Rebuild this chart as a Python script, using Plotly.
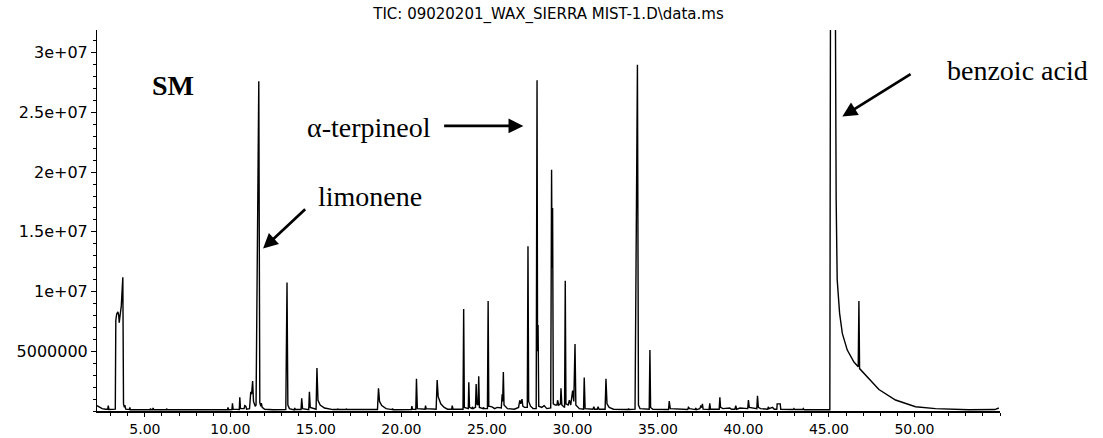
import plotly.graph_objects as go

# Retention time (min) and abundance vertices
rt_min = [
    2.20, 2.35, 2.50, 2.70, 2.83, 2.86, 2.90,
    3.27, 3.30, 3.35, 3.42, 3.47, 3.50, 3.55, 3.62, 3.71, 3.75, 3.80, 3.83, 3.88,
    4.10, 4.12, 4.15, 5.30, 5.33, 5.36, 5.45, 5.48, 5.52, 6.25, 6.27, 6.30,
    9.83, 9.86, 9.90, 10.09, 10.12, 10.16, 10.52, 10.55, 10.59,
    10.80, 10.84, 10.90, 10.95, 11.12, 11.19, 11.24, 11.30, 11.35, 11.45,
    11.50, 11.66, 11.72, 11.78, 11.81, 11.86, 12.00, 12.50,
    13.24, 13.31, 13.36, 13.45, 13.73, 13.76, 13.80,
    14.13, 14.17, 14.22, 14.58, 14.62, 14.67,
    15.01, 15.06, 15.12, 15.25, 15.50, 16.00, 16.25, 16.27, 16.30, 16.76, 16.78, 16.81,
    18.60, 18.66, 18.72, 18.85, 19.10, 19.45, 19.48, 19.52,
    20.58, 20.61, 20.65, 20.84, 20.88, 20.93, 21.38, 21.41, 21.45,
    22.03, 22.09, 22.15, 22.30, 22.50, 22.70, 22.94, 22.97, 23.02,
    23.60, 23.64, 23.68, 23.91, 23.94, 23.98, 24.12, 24.15, 24.20,
    24.33, 24.37, 24.41, 24.48, 24.52, 24.56, 24.78, 24.80, 24.84,
    25.03, 25.07, 25.11, 25.30, 25.45, 25.60, 25.84, 25.89, 25.92, 25.96, 26.00, 26.20,
    26.60, 26.85, 26.92, 26.98, 27.05, 27.10, 27.20,
    27.36, 27.40, 27.44, 27.55, 27.70, 27.88, 27.93, 27.96, 27.99, 28.03, 28.20, 28.35, 28.50,
    28.73, 28.78, 28.81, 28.84, 28.88, 29.00, 29.10, 29.13, 29.20, 29.30, 29.33, 29.38,
    29.54, 29.58, 29.62, 29.75, 29.82, 29.90, 30.01, 30.08, 30.15, 30.20, 30.40,
    30.65, 30.69, 30.74, 31.20, 31.25, 31.30, 31.45, 31.50, 31.55,
    31.91, 31.96, 32.02, 32.15, 32.40, 33.25, 33.28, 33.31,
    33.66, 33.80, 33.86, 33.95, 34.49, 34.53, 34.57, 34.70,
    35.62, 35.66, 35.72, 36.74, 36.78, 36.85, 37.18, 37.21, 37.25,
    37.45, 37.50, 37.56, 37.60, 37.64, 37.99, 38.03, 38.07,
    38.30, 38.58, 38.62, 38.66, 38.80, 39.20, 39.30, 39.50, 39.55, 39.60, 39.80, 40.00,
    40.25, 40.29, 40.34, 40.78, 40.82, 40.87, 41.00,
    41.42, 41.45, 41.50, 41.70, 41.80, 41.95, 41.97, 42.15, 42.18,
    42.92, 42.95, 43.00, 43.47, 43.50, 43.55,
    45.05, 45.10, 45.38, 45.42, 45.48, 45.62, 45.78, 46.07, 46.46, 46.71, 46.75, 46.79,
    47.14, 47.92, 48.89, 50.06, 51.23, 53.18, 54.70, 54.93,
]
tic_abundance = [
    4.5e5, 3.0e5, 2.0e5, 1.5e5, 1.5e5, 4.5e5, 1.2e5,
    1.5e5, 7.6e6, 8.1e6, 8.3e6, 8.0e6, 7.4e6, 8.0e6, 8.8e6, 1.12e7, 6.0e5, 3.0e5, 5.0e5, 1.5e5,
    1.2e5, 3.0e5, 1.0e5, 1.0e5, 2.0e5, 1.0e5, 1.0e5, 2.5e5, 1.0e5, 1.0e5, 2.0e5, 1.0e5,
    1.0e5, 3.0e5, 1.0e5, 1.2e5, 6.5e5, 1.5e5, 1.2e5, 1.15e6, 2.0e5,
    2.0e5, 4.5e5, 4.0e5, 1.5e5, 2.0e5, 1.6e6, 1.4e6, 2.5e6, 8.0e5, 4.0e5,
    5.0e5, 2.76e7, 7.0e5, 4.0e5, 6.5e5, 3.0e5, 1.5e5, 1.0e5,
    1.2e5, 1.075e7, 5.0e5, 2.0e5, 1.0e5, 2.5e5, 1.2e5,
    1.2e5, 1.06e6, 2.0e5, 1.2e5, 1.6e6, 3.0e5,
    1.5e5, 3.6e6, 9.0e5, 5.0e5, 2.5e5, 1.2e5, 1.2e5, 2.0e5, 1.2e5, 1.2e5, 2.0e5, 1.2e5,
    1.2e5, 1.9e6, 8.0e5, 4.5e5, 2.0e5, 1.2e5, 2.0e5, 1.0e5,
    1.2e5, 4.0e5, 1.5e5, 1.2e5, 2.7e6, 2.0e5, 1.5e5, 4.5e5, 2.0e5,
    1.5e5, 2.6e6, 1.2e6, 6.0e5, 3.0e5, 1.5e5, 1.5e5, 4.5e5, 1.5e5,
    1.5e5, 8.55e6, 3.0e5, 2.0e5, 2.4e6, 3.0e5, 2.0e5, 3.5e5, 2.0e5,
    3.0e5, 2.25e6, 6.0e5, 5.0e5, 2.9e6, 3.0e5, 2.0e5, 3.0e5, 2.0e5,
    2.0e5, 9.2e6, 4.0e5, 3.5e5, 2.0e5, 3.0e5, 2.5e5, 1.4e6, 8.0e5, 3.26e6, 5.0e5, 2.0e5,
    1.5e5, 3.0e5, 9.0e5, 6.0e5, 1.0e6, 4.0e5, 3.0e5,
    3.0e5, 1.38e7, 8.0e5, 4.0e5, 2.0e5, 2.0e5, 2.77e7, 5.0e6, 7.2e6, 4.0e5, 3.0e5, 4.5e5, 2.0e5,
    2.5e5, 2.02e7, 1.2e7, 1.7e7, 6.0e5, 5.0e5, 5.0e5, 9.0e5, 5.0e5, 6.0e5, 1.9e6, 5.0e5,
    3.0e5, 1.09e7, 6.0e5, 5.0e5, 9.0e5, 5.0e5, 1.7e6, 8.0e5, 5.6e6, 5.0e5, 2.0e5,
    1.5e5, 2.8e6, 2.0e5, 1.5e5, 3.5e5, 1.5e5, 1.5e5, 3.5e5, 1.5e5,
    1.5e5, 2.7e6, 6.0e5, 3.0e5, 1.5e5, 1.2e5, 2.0e5, 1.2e5,
    1.5e5, 2.9e7, 5.0e5, 2.0e5, 1.5e5, 5.1e6, 3.0e5, 1.5e5,
    1.2e5, 8.4e5, 2.0e5, 1.2e5, 3.0e5, 2.0e5, 1.2e5, 2.5e5, 1.2e5,
    2.0e5, 4.0e5, 3.0e5, 6.0e5, 1.5e5, 1.2e5, 6.5e5, 1.5e5,
    1.5e5, 1.5e5, 1.15e6, 3.0e5, 2.0e5, 2.5e5, 1.5e5, 1.5e5, 4.5e5, 1.5e5, 2.5e5, 2.0e5,
    2.0e5, 9.2e5, 3.0e5, 2.0e5, 1.28e6, 3.0e5, 2.0e5,
    1.5e5, 3.5e5, 2.0e5, 3.0e5, 1.5e5, 1.5e5, 6.0e5, 6.0e5, 1.5e5,
    1.2e5, 2.0e5, 1.2e5, 1.2e5, 2.0e5, 1.0e5,
    1.0e5, 4.5e7, 3.2e7, 1.77e7, 1.1e7, 8.2e6, 6.5e6, 5.1e6, 4.1e6, 3.7e6, 9.2e6, 3.55e6,
    3.0e6, 1.8e6, 9.2e5, 3.6e5, 2.0e5, 1.0e5, 1.2e5, 2.5e5,
]

x_tick_vals = [5, 10, 15, 20, 25, 30, 35, 40, 45, 50]
x_tick_text = ["5.00", "10.00", "15.00", "20.00", "25.00", "30.00", "35.00", "40.00", "45.00", "50.00"]
y_tick_vals = [5e6, 1e7, 1.5e7, 2e7, 2.5e7, 3e7]
y_tick_text = ["5000000", "1e+07", "1.5e+07", "2e+07", "2.5e+07", "3e+07"]

title_text = "TIC: 09020201_WAX_SIERRA MIST-1.D\\data.ms"

serif = "Liberation Serif, Times New Roman, serif"
sans = "DejaVu Sans, Arial, sans-serif"

fig = go.Figure()
fig.add_trace(go.Scatter(
    x=rt_min, y=tic_abundance, mode="lines",
    line=dict(color="black", width=1.4),
    showlegend=False, hoverinfo="skip",
))

fig.update_layout(
    width=1103, height=438,
    margin=dict(l=97, r=103, t=30, b=27, autoexpand=False),
    paper_bgcolor="white", plot_bgcolor="white",
    title=dict(text=title_text, x=0.5, xref="paper", y=1 - 14 / 438, yref="container",
               xanchor="center", yanchor="middle",
               font=dict(family=sans, size=15, color="black")),
    xaxis=dict(
        range=[2.2, 55.0], showgrid=False, zeroline=False, automargin=False,
        showline=True, linecolor="black", linewidth=1.5,
        tickmode="array", tickvals=x_tick_vals, ticktext=x_tick_text,
        ticks="outside", ticklen=4, tickwidth=1, tickcolor="black",
        ticklabelstandoff=0,
        minor=dict(dtick=1, tick0=0, ticks="outside", ticklen=3, tickcolor="black", showgrid=False),
        tickfont=dict(family=sans, size=14, color="black"),
    ),
    yaxis=dict(
        range=[0, 3.19e7], showgrid=False, zeroline=False, automargin=False,
        showline=True, linecolor="black", linewidth=1,
        tickmode="array", tickvals=y_tick_vals, ticktext=y_tick_text,
        ticks="outside", ticklen=5, tickwidth=1, tickcolor="black",
        minor=dict(dtick=1e6, tick0=0, ticks="outside", ticklen=3, tickcolor="black", showgrid=False),
        tickfont=dict(family=sans, size=16, color="black"),
    ),
)

# Labels
labels = [
    ("SM", 0.0842, 0.8556, True),
    ("α-terpineol", 0.3012, 0.7428, False),
    ("limonene", 0.3018, 0.5617, False),
    ("benzoic acid", 1.0194, 0.8924, False),
]
for txt, xp, yp, bold in labels:
    fig.add_annotation(
        text=f"<b>{txt}</b>" if bold else txt, x=xp, y=yp, xref="paper", yref="paper",
        showarrow=False, xanchor="center", yanchor="middle",
        font=dict(family=serif, size=28, color="black"),
    )

# Arrows (head -> tail in data coordinates)
arrows = [
    (27.13, 2.387e7, 22.41, 2.387e7),
    (11.91, 1.36e7, 14.46, 1.70e7),
    (45.78, 2.465e7, 49.86, 2.828e7),
]
for hx, hy, tx, ty in arrows:
    fig.add_annotation(
        x=hx, y=hy, ax=tx, ay=ty, xref="x", yref="y", axref="x", ayref="y",
        text="", showarrow=True, arrowhead=2, arrowsize=1.1, arrowwidth=2.7,
        arrowcolor="black", standoff=0,
    )

fig.write_html("out.html", config={"displayModeBar": False},
               post_script="document.body.style.margin='0';")
